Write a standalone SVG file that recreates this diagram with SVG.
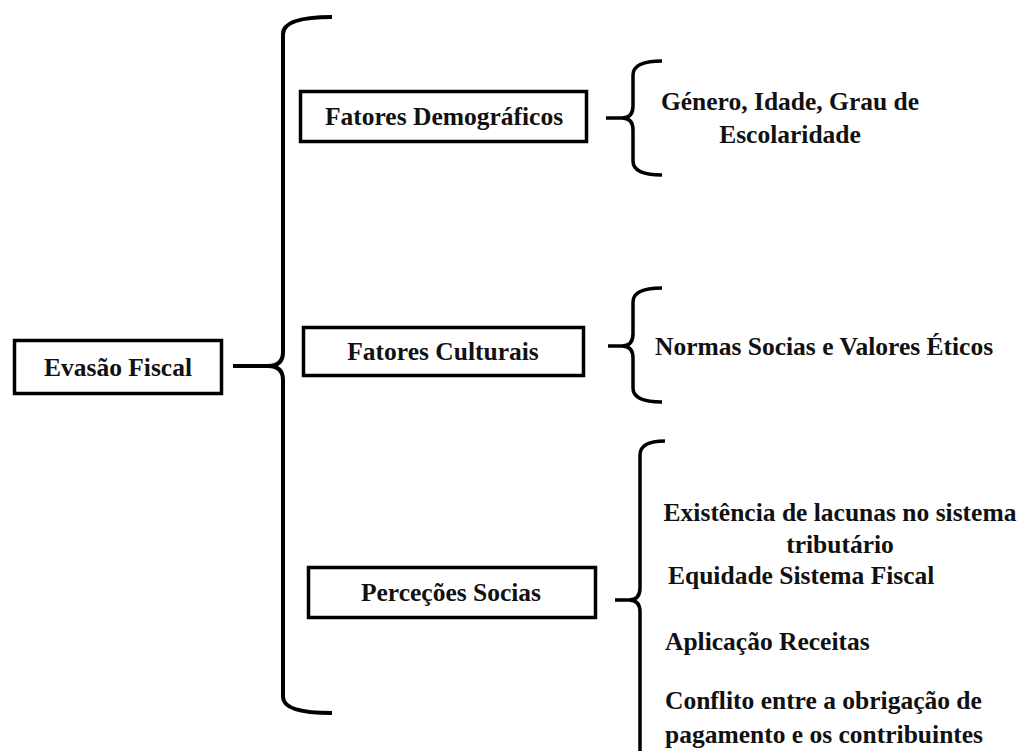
<svg xmlns="http://www.w3.org/2000/svg" width="1021" height="751" viewBox="0 0 1021 751">
<style>
.box{fill:#fff;stroke:#000;stroke-width:3.5}
.t{font-family:"Liberation Serif","Times New Roman",serif;font-weight:bold;font-size:25.5px;fill:#111}
.m{text-anchor:middle}
.br{fill:none;stroke:#000;stroke-width:4;stroke-linecap:butt;stroke-linejoin:round}
.sb{fill:none;stroke:#000;stroke-width:3.5;stroke-linejoin:round}
</style>
<rect width="1021" height="751" fill="#fff"/>
<g id="connectors">
<path class="br" d="M332,17 Q283,17 283,34 L283,352 Q283,366 268,366 L233,366 M268,366 Q283,366 283,380 L283,697 Q283,713 332,713"/>
<path class="sb" d="M662,61 Q633,61 633,75 L633,106 Q633,118 622,118 L606,118 M622,118 Q633,118 633,130 L633,161 Q633,175 662,175"/>
<path class="sb" d="M662,288 Q633,288 633,302 L633,334 Q633,346 622,346 L608,346 M622,346 Q633,346 633,358 L633,388 Q633,402 662,402"/>
<path class="sb" d="M665,441 Q640,441 640,455 L640,588 Q640,600 629,600 L615,600 M629,600 Q640,600 640,612 L640,751"/>
</g>
<g id="evasao">
<rect class="box" x="14.5" y="340.5" width="207" height="53"/>
<text class="t m" x="118" y="376">Evasão Fiscal</text>
</g>
<g id="demograficos">
<rect class="box" x="300.5" y="91.5" width="286" height="50"/>
<text class="t m" x="444" y="125">Fatores Demográficos</text>
</g>
<g id="culturais">
<rect class="box" x="303.5" y="327.5" width="280" height="48"/>
<text class="t m" x="443" y="360">Fatores Culturais</text>
</g>
<g id="percecoes">
<rect class="box" x="308.5" y="567.5" width="287" height="50"/>
<text class="t m" x="451" y="601">Perceções Socias</text>
</g>
<g id="demograficos-itens">
<text class="t m" x="790" y="110">Género, Idade, Grau de</text>
<text class="t m" x="790" y="143">Escolaridade</text>
</g>
<g id="culturais-itens">
<text class="t" x="655" y="355">Normas Socias e Valores Éticos</text>
</g>
<g id="percecoes-itens">
<text class="t m" x="840" y="521">Existência de lacunas no sistema</text>
<text class="t m" x="840" y="553">tributário</text>
<text class="t" x="668" y="584">Equidade Sistema Fiscal</text>
<text class="t" x="665" y="650">Aplicação Receitas</text>
<text class="t" x="665" y="709">Conflito entre a obrigação de</text>
<text class="t" x="665" y="743">pagamento e os contribuintes</text>
</g>
</svg>
